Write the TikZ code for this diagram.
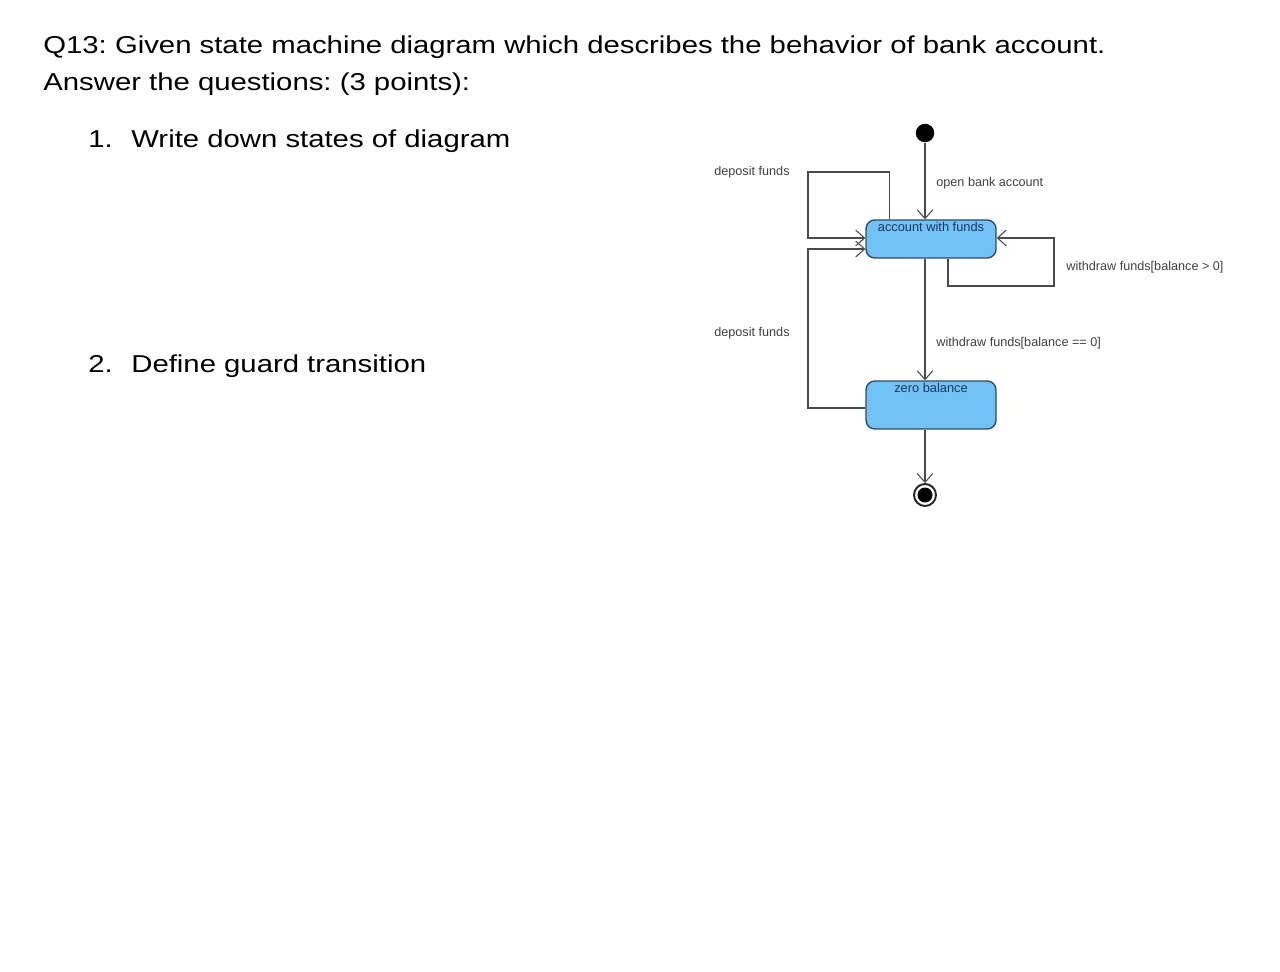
\documentclass[tikz,border=0pt]{standalone}
\usepackage{fontspec}
\setmainfont{Liberation Sans}
\usepackage{graphicx}
\usepackage{xcolor}
\usepackage{tikz}
\usetikzlibrary{arrows.meta,positioning,calc}
\definecolor{statefill}{HTML}{73C2F6}
\definecolor{stateline}{HTML}{2E4A66}
\definecolor{statetext}{HTML}{1C3560}
\definecolor{linegray}{HTML}{4A4A4A}
\newcommand{\wide}[1]{\scalebox{1.2}[1]{#1}}
\frenchspacing
\tikzset{
  question/.style={anchor=base west,inner sep=0pt,font=\fontsize{13.9}{16}\selectfont},
  state/.style={rectangle,rounded corners=5pt,draw=stateline,thick,fill=statefill,minimum width=2.6cm,inner sep=0pt},
  statename/.style={anchor=north,inner sep=1.5pt,text=statetext,font=\fontsize{7.3}{8}\selectfont},
  initial/.style={circle,fill=black,minimum size=0.37cm,inner sep=0pt},
  final/.style={circle,draw=black!85,line width=1.1pt,fill=white,minimum size=0.44cm,inner sep=0pt,
    path picture={\fill[black] (path picture bounding box.center) circle (0.15cm);}},
  trans/.style={-{Straight Barb[length=5pt,width=9pt]},draw=linegray,semithick},
  tlabel/.style={anchor=base west,inner sep=0pt,text=black!75,font=\fontsize{7.2}{8}\selectfont}
}
\begin{document}
\begin{tikzpicture}[x=0.02cm,y=-0.02cm]
  \useasboundingbox (0,0) rectangle (1280,972);
  \node[question] (q) at (43,54) {\wide{Q13: Given state machine diagram which describes the behavior of bank account.}};
  \node[question] (ans) at (43,91) {\wide{Answer the questions: (3 points):}};
  \node[question] (n1) at (88,148) {\wide{1.}};
  \node[question] (t1) at (131,148) {\wide{Write down states of diagram}};
  \node[question] (n2) at (88,373) {\wide{2.}};
  \node[question] (t2) at (131,373) {\wide{Define guard transition}};

  \node[initial] (init) at (925,133) {};
  \node[state,minimum height=0.76cm,label={[statename]north:account with funds}] (acc) at (931,239) {};
  \node[state,minimum height=0.96cm,label={[statename]north:zero balance}] (zero) at (931,405) {};
  \node[final] (fin) at (925,495) {};

  \node[tlabel] (lopen) at (936,187) {open bank account};
  \node[tlabel] (ldep1) at (714,176) {deposit funds};
  \node[tlabel] (ldep2) at (714,337) {deposit funds};
  \node[tlabel] (lwpos) at (1066,271) {withdraw funds[balance > 0]};
  \node[tlabel] (lwzero) at (936,347) {withdraw funds[balance == 0]};

  \coordinate (dtop) at (808,172);
  \coordinate (dmid) at (808,300);
  \coordinate (wbot) at (1054,286);

  \draw[trans] (init) -- (init |- acc.north);
  \draw[trans] ($(acc.north west)+(24,0)$) |- (dtop) |- ($(acc.west)+(0,-1)$);
  \draw[trans] ($(zero.west)+(0,3)$) -| (dmid) |- ($(acc.west)+(0,10)$);
  \draw[trans] ($(acc.south)+(17,0)$) |- (wbot) |- ($(acc.east)+(0,-1)$);
  \draw[trans] (acc.south -| init) -- (zero.north -| init);
  \draw[trans] (zero.south -| init) -- (fin);
\end{tikzpicture}
\end{document}
